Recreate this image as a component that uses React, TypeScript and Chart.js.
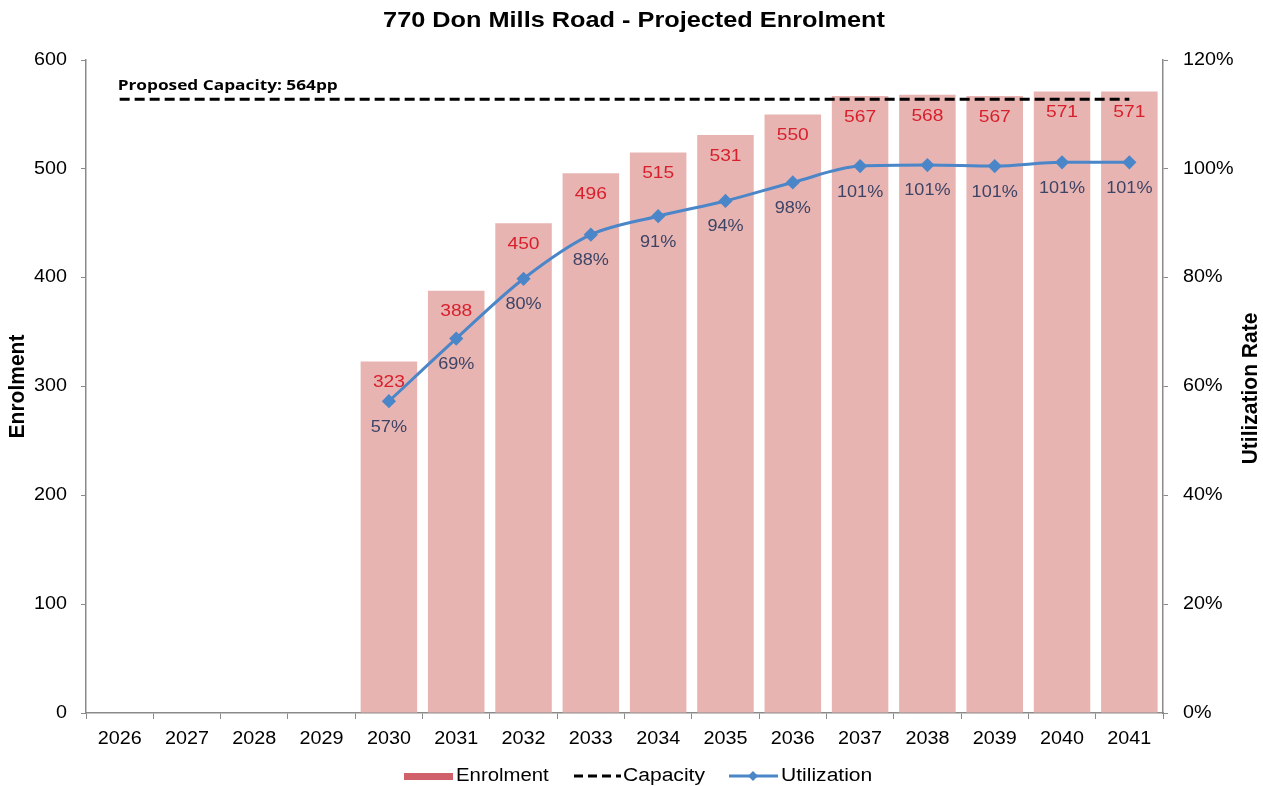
import React, { useEffect, useRef } from "react";
import { Chart, registerables } from "chart.js";

Chart.register(...registerables);

const years = ["2026", "2027", "2028", "2029", "2030", "2031", "2032", "2033", "2034", "2035", "2036", "2037", "2038", "2039", "2040", "2041"];
const enrolment = [null, null, null, null, 323, 388, 450, 496, 515, 531, 550, 567, 568, 567, 571, 571];
const capacity = [564, 564, 564, 564, 564, 564, 564, 564, 564, 564, 564, 564, 564, 564, 564, 564];
const utilization = [null, null, null, null, 57.3, 68.8, 79.8, 87.9, 91.3, 94.1, 97.5, 100.5, 100.7, 100.5, 101.2, 101.2];
const utilizationLabels = ["", "", "", "", "57%", "69%", "80%", "88%", "91%", "94%", "98%", "101%", "101%", "101%", "101%", "101%"];
const leftTicks = [0, 100, 200, 300, 400, 500, 600];
const rightTicks = [0, 20, 40, 60, 80, 100, 120];
const titleText = "770 Don Mills Road - Projected Enrolment";
const capacityText = "Proposed Capacity: 564pp";

const FONT = "'Liberation Sans', Arial, sans-serif";
const BAR_COLOR = "#e8b4b2";
const LINE_COLOR = "#4a86c8";
const AXIS_COLOR = "#8a8a8a";
const K = 1.13;

function txt(ctx: CanvasRenderingContext2D, s: string, x: number, y: number, font: string, color: string, align: CanvasTextAlign = "center", k = K, rot = 0) {
  ctx.save();
  ctx.font = font;
  ctx.fillStyle = color;
  ctx.textAlign = align;
  ctx.textBaseline = "middle";
  ctx.translate(x, y);
  ctx.scale(k, 1);
  if (rot) ctx.rotate(rot);
  ctx.fillText(s, 0, 0);
  ctx.restore();
}

const customPlugin = {
  id: "custom",
  afterDatasetsDraw(chart: any) {
    const ctx = chart.ctx;
    const xs = chart.scales.x;
    const ys = chart.scales.y;
    const y1 = chart.scales.y1;
    enrolment.forEach((v, i) => {
      if (v == null) return;
      txt(ctx, String(v), xs.getPixelForValue(i), ys.getPixelForValue(v) + 21, `17px ${FONT}`, "#d8202c");
    });
    utilization.forEach((v, i) => {
      if (v == null) return;
      txt(ctx, utilizationLabels[i], xs.getPixelForValue(i), y1.getPixelForValue(v) + 26, `16px ${FONT}`, "#3d4466");
    });
    txt(ctx, capacityText, xs.getPixelForValue(0) - 2, ys.getPixelForValue(564) - 13, `bold 15px 'Open Sans', ${FONT}`, "#000", "left", 1.15);
  },
  afterDraw(chart: any) {
    const ctx = chart.ctx;
    const xs = chart.scales.x;
    const ys = chart.scales.y;
    const y1 = chart.scales.y1;
    const area = chart.chartArea;
    const tickFont = `17.5px ${FONT}`;
    // tick labels
    years.forEach((y, i) => txt(ctx, y, xs.getPixelForValue(i), 739, tickFont, "#000"));
    leftTicks.forEach((v) => txt(ctx, String(v), area.left - 19, ys.getPixelForValue(v), tickFont, "#000", "right"));
    rightTicks.forEach((v) => txt(ctx, v + "%", area.right + 20, y1.getPixelForValue(v), tickFont, "#000", "left"));
    // axis titles
    const mid = (area.top + area.bottom) / 2;
    txt(ctx, "Enrolment", 18, mid, `bold 21px ${FONT}`, "#000", "center", 1.05, -Math.PI / 2);
    txt(ctx, "Utilization Rate", 1251, mid + 2, `bold 21px ${FONT}`, "#000", "center", 1.05, -Math.PI / 2);
    // title
    txt(ctx, titleText, 634, 21, `bold 22px ${FONT}`, "#000", "center", 1.15);
    // legend
    const ly = 776;
    ctx.save();
    ctx.fillStyle = "#d0606a";
    ctx.fillRect(404, ly - 3, 49, 7);
    ctx.strokeStyle = "#000";
    ctx.lineWidth = 3;
    ctx.setLineDash([9, 5]);
    ctx.beginPath();
    ctx.moveTo(574, ly);
    ctx.lineTo(621, ly);
    ctx.stroke();
    ctx.setLineDash([]);
    ctx.strokeStyle = LINE_COLOR;
    ctx.beginPath();
    ctx.moveTo(729, ly);
    ctx.lineTo(778, ly);
    ctx.stroke();
    ctx.fillStyle = LINE_COLOR;
    ctx.beginPath();
    ctx.moveTo(753, ly - 5);
    ctx.lineTo(758, ly);
    ctx.lineTo(753, ly + 5);
    ctx.lineTo(748, ly);
    ctx.closePath();
    ctx.fill();
    ctx.restore();
    const lf = `18px ${FONT}`;
    txt(ctx, "Enrolment", 456, ly, lf, "#000", "left");
    txt(ctx, "Capacity", 623, ly, lf, "#000", "left", 1.17);
    txt(ctx, "Utilization", 781, ly, lf, "#000", "left", 1.17);
  },
};

export default function App() {
  const ref = useRef<HTMLCanvasElement>(null);
  useEffect(() => {
    if (!ref.current) return;
    const chart = new Chart(ref.current, {
      type: "bar",
      data: {
        labels: years,
        datasets: [
          {
            type: "line",
            label: "Utilization",
            data: utilization,
            yAxisID: "y1",
            borderColor: LINE_COLOR,
            backgroundColor: LINE_COLOR,
            borderWidth: 3,
            pointStyle: "rectRot",
            pointRadius: 5,
            cubicInterpolationMode: "monotone",
            order: 1,
          } as any,
          {
            type: "line",
            label: "Capacity",
            data: capacity,
            yAxisID: "y",
            borderColor: "#000",
            borderWidth: 3,
            borderDash: [10, 5],
            pointRadius: 0,
            order: 2,
          } as any,
          {
            type: "bar",
            label: "Enrolment",
            data: enrolment,
            yAxisID: "y",
            backgroundColor: BAR_COLOR,
            barPercentage: 0.84,
            categoryPercentage: 1,
            order: 3,
          } as any,
        ],
      },
      options: {
        responsive: false,
        animation: false,
        layout: { padding: { top: 60, bottom: 33, left: 0, right: 0 } },
        plugins: {
          legend: { display: false },
          title: { display: false },
          tooltip: { enabled: false },
        },
        scales: {
          x: {
            grid: { drawOnChartArea: false, drawTicks: true, tickLength: 6, color: AXIS_COLOR, offset: true },
            border: { color: AXIS_COLOR, width: 1.5 },
            ticks: { display: false },
            afterFit: (s: any) => { s.height = 40; },
          },
          y: {
            position: "left",
            min: 0,
            max: 600,
            ticks: { stepSize: 100, display: false },
            grid: { drawOnChartArea: false, drawTicks: true, tickLength: 5, color: AXIS_COLOR },
            border: { color: AXIS_COLOR, width: 1.5 },
            afterFit: (s: any) => { s.width = 86; },
          },
          y1: {
            position: "right",
            min: 0,
            max: 120,
            ticks: { stepSize: 20, display: false },
            grid: { drawOnChartArea: false, drawTicks: true, tickLength: 5, color: AXIS_COLOR },
            border: { color: AXIS_COLOR, width: 1.5 },
            afterFit: (s: any) => { s.width = 100; },
          },
        },
      },
      plugins: [customPlugin],
    });
    return () => chart.destroy();
  }, []);
  return (
    <div style={{ position: "fixed", left: 0, top: 0, width: 1263, height: 786, background: "#fff" }}>
      <canvas ref={ref} width={1263} height={786} />
    </div>
  );
}
